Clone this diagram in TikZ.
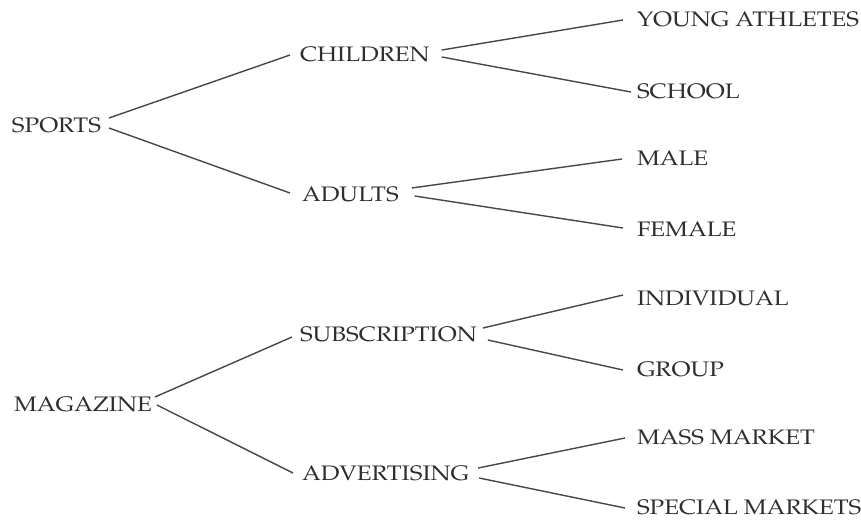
\documentclass[tikz,border=0pt]{standalone}
\usepackage[T1]{fontenc}
\usepackage{mathpazo}
\begin{document}
\begin{tikzpicture}[x=1pt,y=-1pt,
  lbl/.style={anchor=base west,inner sep=0pt,outer sep=0pt,font=\fontsize{21}{23}\selectfont,text=black!82,xscale=1.15,transform shape},
  conn/.style={draw=black!72,line width=1.4pt}]
\useasboundingbox (0,0) rectangle (861,519);
\node[lbl] (sports) at (12,132) {SPORTS};
\node[lbl] (children) at (300,62) {CHILDREN};
\node[lbl] (adults) at (302,201) {ADULTS};
\node[lbl] (young) at (637,27) {YOUNG ATHLETES};
\node[lbl] (school) at (637,98) {SCHOOL};
\node[lbl] (male) at (637,165) {MALE};
\node[lbl] (female) at (637,236) {FEMALE};
\node[lbl] (magazine) at (14,411) {MAGAZINE};
\node[lbl] (subscr) at (300,341) {SUBSCRIPTION};
\node[lbl] (advert) at (302,480) {ADVERTISING};
\node[lbl] (indiv) at (637,305) {INDIVIDUAL};
\node[lbl] (group) at (637,376) {GROUP};
\node[lbl] (mass) at (637,444) {MASS MARKET};
\node[lbl] (special) at (637,514) {SPECIAL MARKETS};
\draw[conn] ([shift={(8,-14)}]sports.base east) -- ([shift={(-10,-7)}]children.base west);
\draw[conn] ([shift={(8,-4)}]sports.base east) -- ([shift={(-12,-8)}]adults.base west);
\draw[conn] ([shift={(12,-12)}]children.base east) -- ([shift={(-14,-7)}]young.base west);
\draw[conn] ([shift={(12,-5)}]children.base east) -- ([shift={(-6,-6)}]school.base west);
\draw[conn] ([shift={(13,-13)}]adults.base east) -- ([shift={(-15,-6)}]male.base west);
\draw[conn] ([shift={(16,-5)}]adults.base east) -- ([shift={(-14,-8)}]female.base west);
\draw[conn] ([shift={(3,-14)}]magazine.base east) -- ([shift={(-8,-4)}]subscr.base west);
\draw[conn] ([shift={(5,-6)}]magazine.base east) -- ([shift={(-9,-7)}]advert.base west);
\draw[conn] ([shift={(6,-13)}]subscr.base east) -- ([shift={(-14,-10)}]indiv.base west);
\draw[conn] ([shift={(11,-1)}]subscr.base east) -- ([shift={(-14,-6)}]group.base west);
\draw[conn] ([shift={(9,-12)}]advert.base east) -- ([shift={(-12,-6)}]mass.base west);
\draw[conn] ([shift={(10,-2)}]advert.base east) -- ([shift={(-12,-6)}]special.base west);
\end{tikzpicture}
\end{document}
